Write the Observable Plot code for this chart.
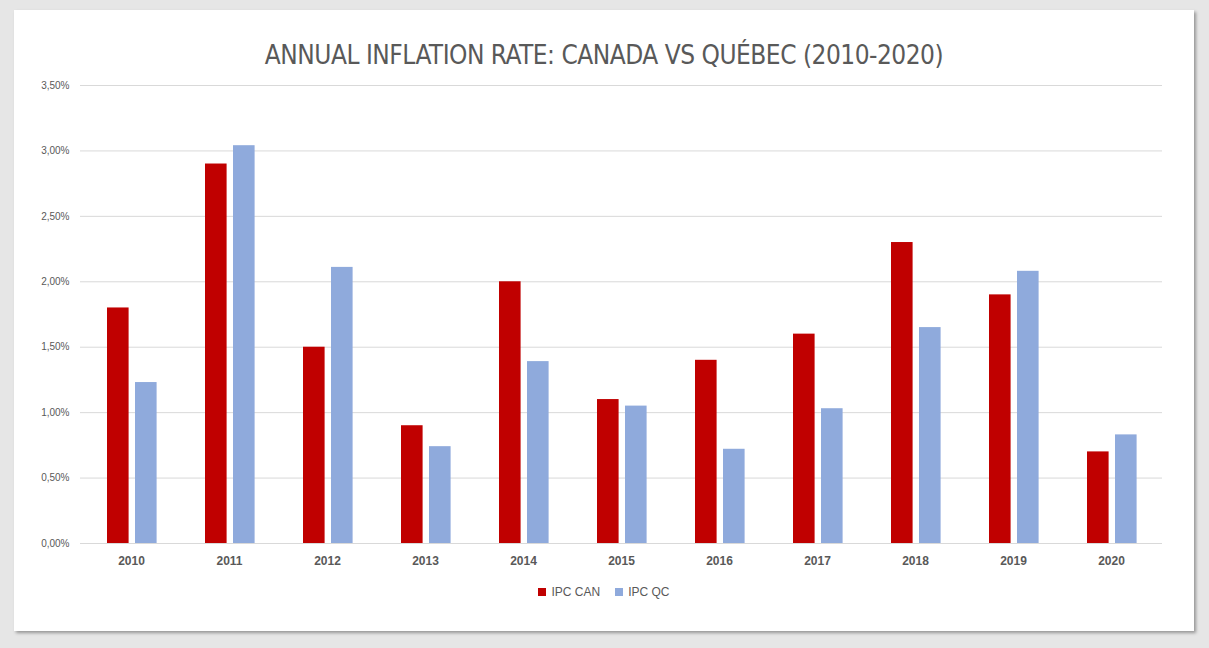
<!DOCTYPE html>
<html>
<head>
<meta charset="utf-8">
<script src="https://cdn.jsdelivr.net/npm/d3@7"></script>
<script src="https://cdn.jsdelivr.net/npm/@observablehq/plot@0.6"></script>
<style>
  html, body { margin: 0; padding: 0; background: #e6e6e6; width: 1209px; height: 648px; overflow: hidden; }
  #card { position: absolute; left: 14px; top: 10px; width: 1180px; height: 621px; background: #fff;
          box-shadow: 2px 2px 3px rgba(0,0,0,0.35); }
  #title { position: absolute; left: 0; width: 1180px; top: 30px; text-align: center;
           font-family: "DejaVu Sans Condensed", "Liberation Sans Narrow", "Roboto", sans-serif; font-size: 26px;
           color: #595959; letter-spacing: -0.5px; }
  #chart { position: absolute; left: 0; top: 60px; }
  #legend { position: absolute; top: 575px; left: 0; width: 1180px; display: flex; justify-content: center; gap: 15px;
            font-family: "Liberation Sans", Arial, sans-serif; font-size: 12px; color: #595959; }
  .item { display: flex; align-items: center; gap: 5px; }
  .sw { width: 8px; height: 8px; display: inline-block; }
</style>
</head>
<body>
<div id="card">
  <div id="title">ANNUAL INFLATION RATE: CANADA VS QUÉBEC (2010-2020)</div>
  <div id="chart"></div>
  <div id="legend"></div>
</div>
<script>
const years = ["2010","2011","2012","2013","2014","2015","2016","2017","2018","2019","2020"];
const ipcCAN = [1.8, 2.9, 1.5, 0.9, 2.0, 1.1, 1.4, 1.6, 2.3, 1.9, 0.7];
const ipcQC = [1.23, 3.04, 2.11, 0.74, 1.39, 1.05, 0.72, 1.03, 1.65, 2.08, 0.83];
const seriesNames = ["IPC CAN", "IPC QC"];
const seriesColors = ["#c00000", "#8faadc"];
const yTicks = [0, 0.5, 1.0, 1.5, 2.0, 2.5, 3.0, 3.5];

const canData = years.map((y, i) => ({year: y, value: ipcCAN[i]}));
const qcData = years.map((y, i) => ({year: y, value: ipcQC[i]}));
const fmt = d => d.toFixed(2).replace(".", ",") + "%";

const chart = Plot.plot({
  width: 1180,
  height: 500,
  marginLeft: 66,
  marginRight: 32,
  marginTop: 15,
  marginBottom: 27,
  style: {fontFamily: "Liberation Sans, Arial, sans-serif", color: "#595959", background: "transparent"},
  x: {domain: years, padding: 0, label: null},
  y: {domain: [0, 3.5], label: null},
  marks: [
    Plot.ruleY(yTicks, {stroke: "#d9d9d9", strokeWidth: 1}),
    Plot.barY(canData, {x: "year", y: "value", fill: seriesColors[0], insetLeft: 25, insetRight: 51.4}),
    Plot.barY(qcData, {x: "year", y: "value", fill: seriesColors[1], insetLeft: 53, insetRight: 23.4}),
    Plot.axisY({ticks: yTicks, tickFormat: fmt, tickSize: 0, tickPadding: 11, fontSize: 10, fill: "#595959"}),
    Plot.axisX({tickSize: 0, tickPadding: 13, fontSize: 12, fontWeight: "bold", fill: "#595959"})
  ]
});
document.getElementById("chart").appendChild(chart);

const legend = document.getElementById("legend");
seriesNames.forEach((n, i) => {
  const it = document.createElement("div");
  it.className = "item";
  const sw = document.createElement("span");
  sw.className = "sw";
  sw.style.background = seriesColors[i];
  const t = document.createElement("span");
  t.textContent = n;
  it.appendChild(sw); it.appendChild(t);
  legend.appendChild(it);
});
</script>
</body>
</html>
